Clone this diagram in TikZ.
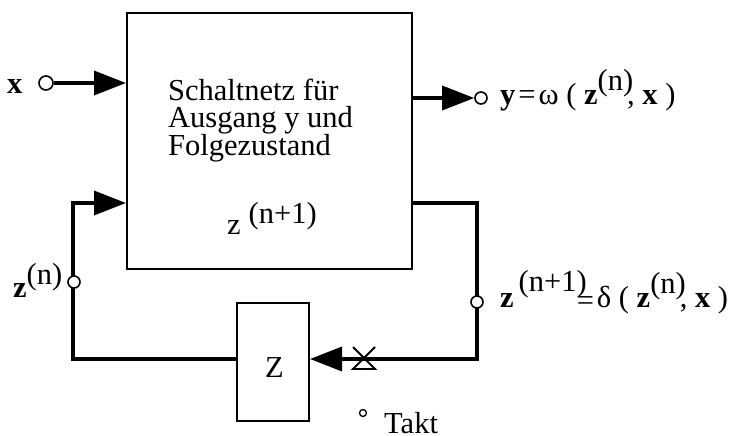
\documentclass[tikz,border=0pt]{standalone}
\usepackage{fontspec}
\setmainfont{Liberation Serif}
\usetikzlibrary{arrows.meta,calc}
\newcommand{\upidx}[2][14pt]{\raisebox{#1}{#2}}
\begin{document}
\begin{tikzpicture}[x=1pt,y=-1pt,
  box/.style={draw, line width=2pt, inner sep=0pt},
  wire/.style={line width=3.5pt},
  arr/.style={wire, -{Triangle[length=32pt,width=24pt]}},
  port/.style={circle, draw, line width=1.6pt, fill=white, minimum size=13pt, inner sep=0pt},
  lbl/.style={font=\fontsize{30.5}{27}\selectfont, inner sep=0pt, anchor=base west, text depth=0pt}]
\useasboundingbox (0,0) rectangle (737,436);
\fill[white] (0,0) rectangle (737,436);

% combinational block and state register
\node[box, minimum width=285pt, minimum height=256pt] (snet) at (269.5,141) {};
\node[box, minimum width=72pt, minimum height=118pt] (zreg) at (273,362) {};

% corner points of the feedback loop
\coordinate (fr) at (477,203);
\coordinate (br) at (477,359);
\coordinate (bl) at (73,359);
\coordinate (tl) at (73,203);

% ports
\node[port, minimum size=14pt] (xin) at (46,83) {};
\node[port, minimum size=12pt] (yout) at (481,98) {};

% signal wires
\draw[arr] (xin) -- (xin -| snet.west);
\draw[arr] (snet.east |- yout) -- (yout.west);
\draw[arr] (snet.east |- fr) -- (fr) -- (br) -- (zreg.east |- br);
\draw[arr] (zreg.west |- bl) -- (bl) -- (tl) -- (snet.west |- tl);

% state ports on the loop
\node[port, minimum size=12pt] (zn) at (74,282) {};
\node[port, minimum size=12pt] (znp) at (477,302) {};

% clock-edge mark on the register input
\coordinate (clk) at (364,358);
\draw[line width=1.8pt] ($(clk)+(-11,-11)$) -- ($(clk)+(11,11)$) -- ($(clk)+(-11,11)$) -- ($(clk)+(11,-11)$);

% clock input
\node[circle, draw, line width=1.3pt, minimum size=7pt, inner sep=0pt] (takt) at (363,413) {};
\node[lbl] (taktlbl) at (384,433) {Takt};

% texts
\node[lbl] (xlbl) at (7,93) {\textbf{x}};
\node[lbl] (t1) at (168,101) {Schaltnetz für};
\node[lbl] (t2) at (168,128) {Ausgang y und};
\node[lbl] (t3) at (168,155) {Folgezustand};
\node[lbl] (zin) at (227,234) {z\hspace{8pt}\upidx[11pt]{(n+1)}};
\node[lbl] (zreglbl) at (265,377) {Z};
\node[lbl] (ylbl) at (500,105) {\textbf{y}\kern3pt=\kern3ptω ( \textbf{z}\upidx{(n)}\kern-6pt, \textbf{x} )};
\node[lbl] (znlbl) at (13,297) {\textbf{z}\upidx[13pt]{(n)}};
\node[lbl] (znplbl) at (500,307) {\textbf{z}\hspace{5pt}\upidx[16pt]{(n+1)}\kern-10pt\raisebox{-3pt}{=}\kern3ptδ ( \textbf{z}\upidx{(n)}\kern-6pt, \textbf{x} )};
\end{tikzpicture}
\end{document}
